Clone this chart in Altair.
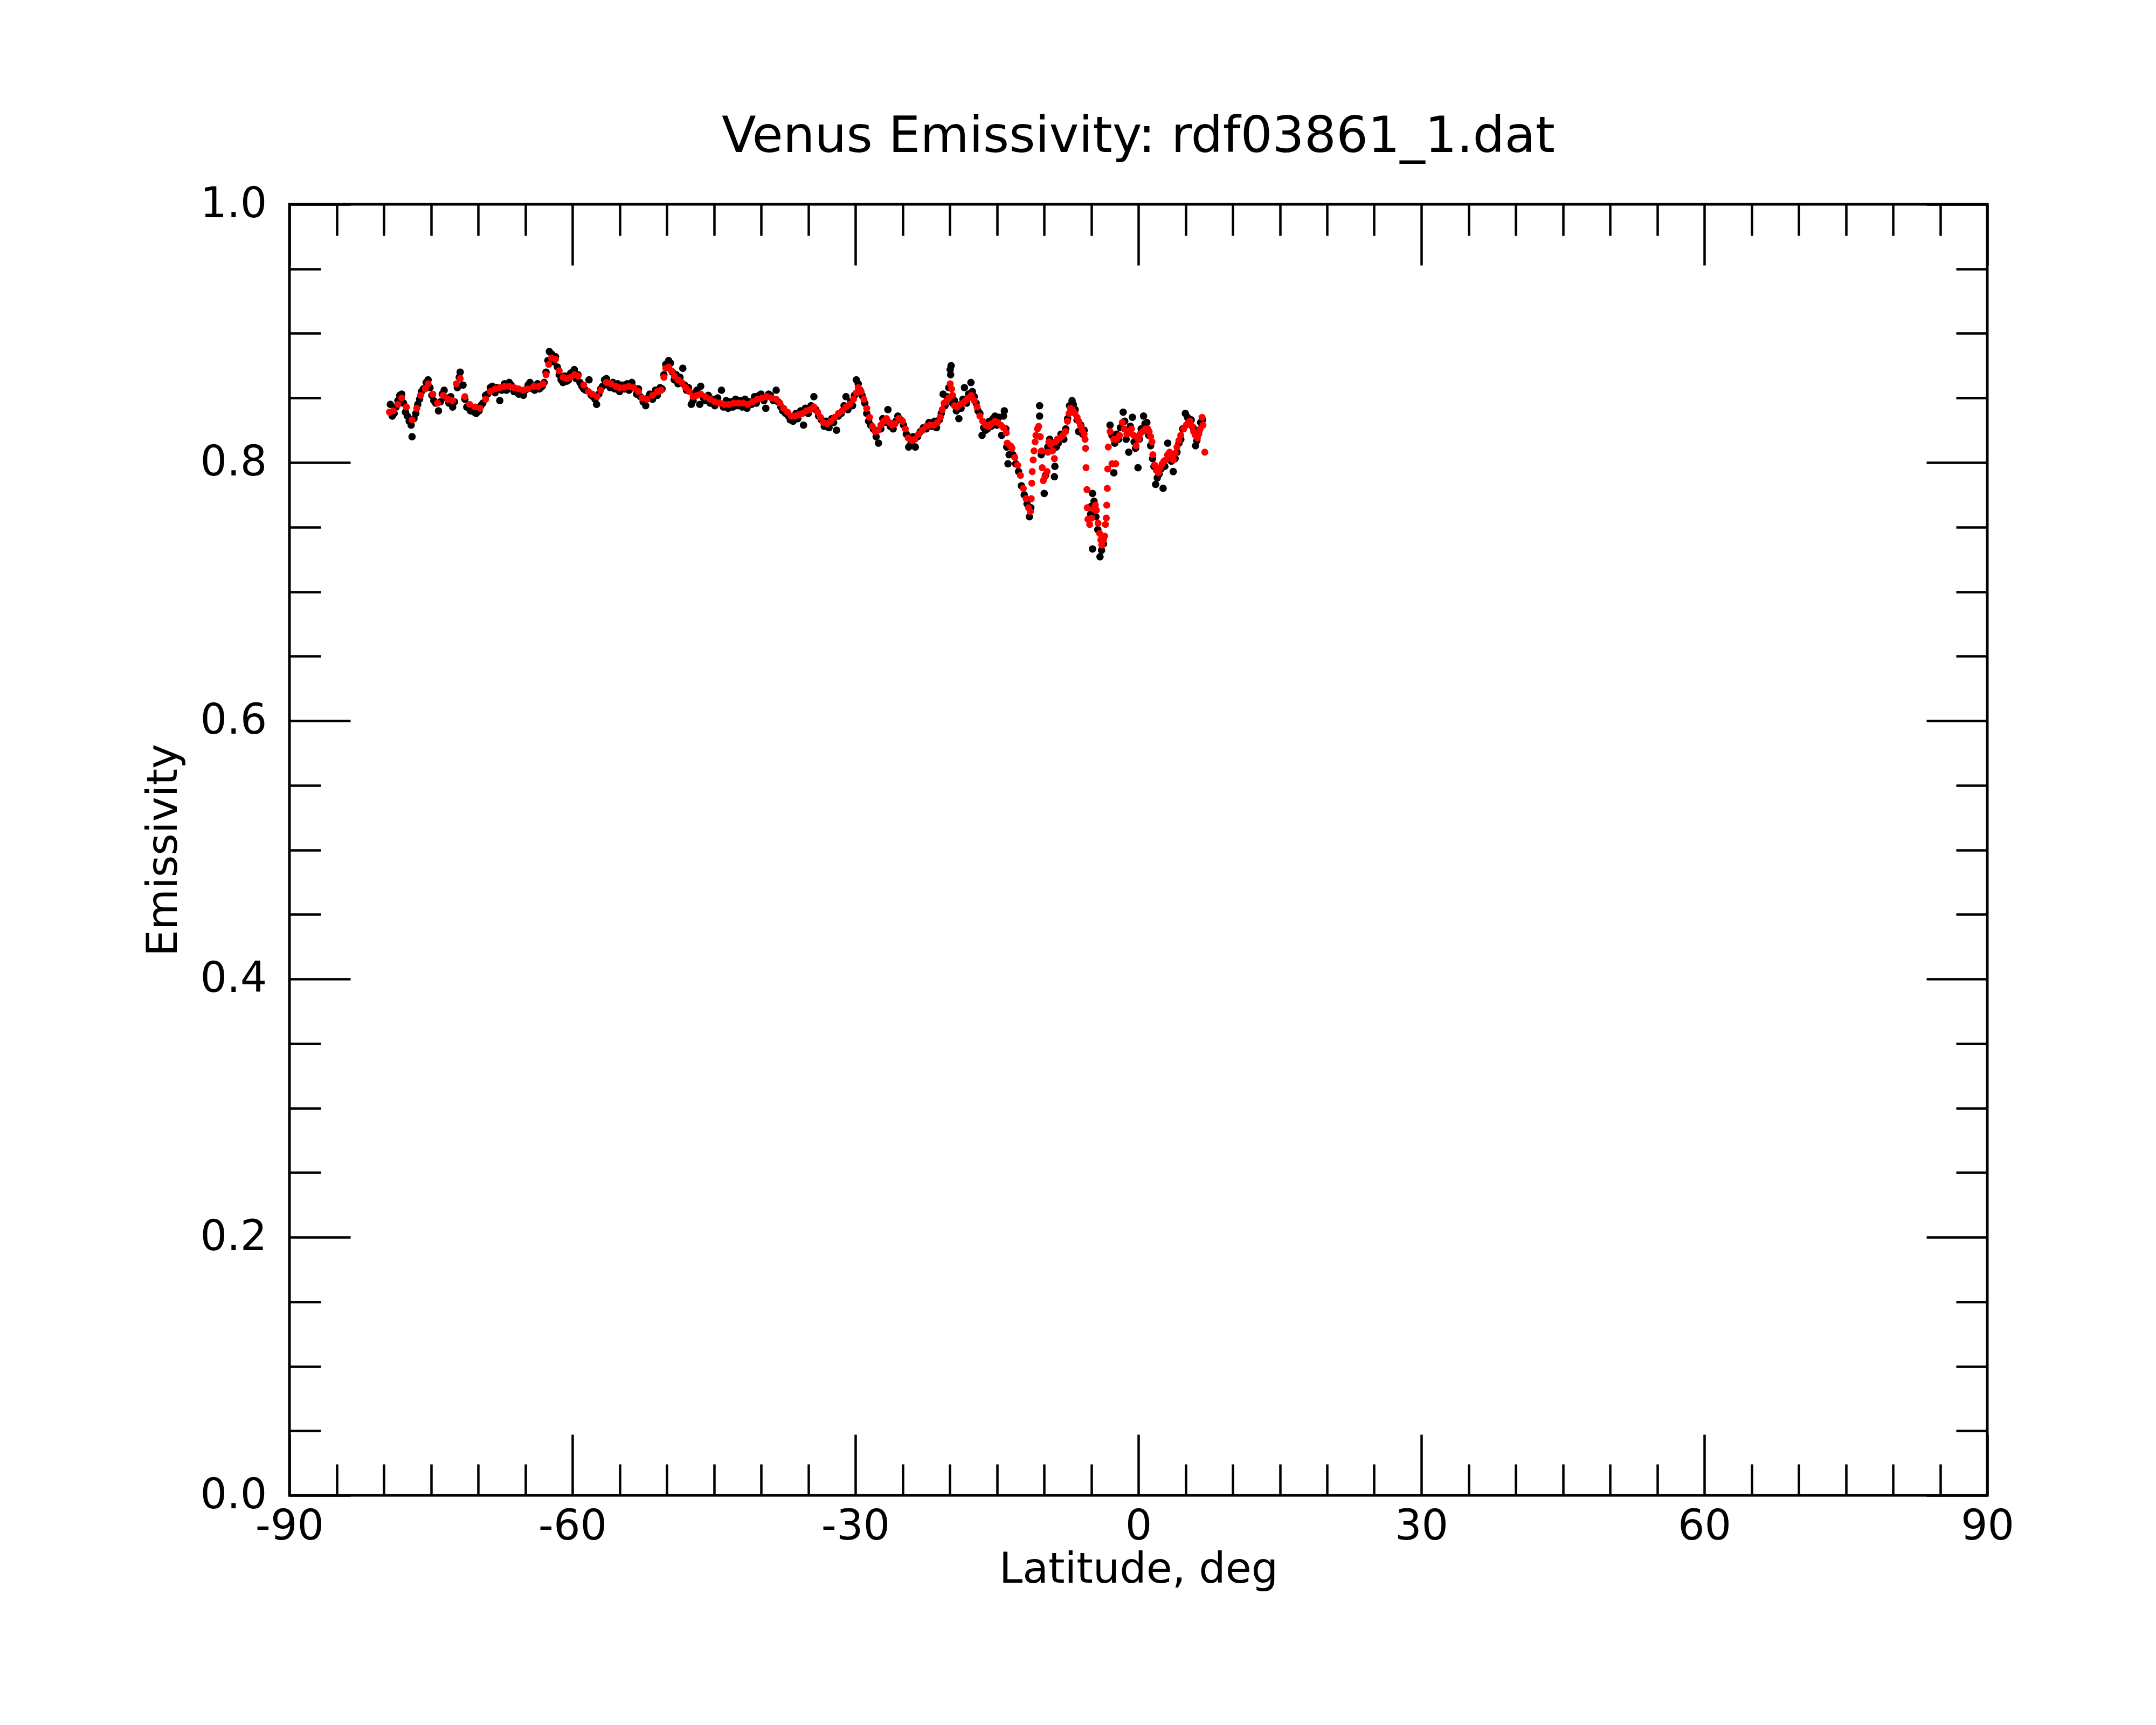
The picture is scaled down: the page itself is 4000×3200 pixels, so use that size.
import altair as alt
import pandas as pd

# ---------------- data ----------------
red_lat = [
    -79.4, -79.0, -78.5, -78.1, -77.6, -77.0, -76.5, -76.1, -75.6, -75.3,
    -74.8, -74.3, -73.7, -73.2, -72.7, -72.3, -71.9, -71.4, -70.9, -70.3,
    -69.8, -69.2, -68.7, -68.2, -67.7, -67.2, -66.7, -66.2, -65.7, -65.2,
    -64.7, -64.1, -63.6, -63.1, -62.8, -62.5, -62.2, -61.8, -61.4, -61.0,
    -60.6, -60.2, -59.8, -59.4, -58.8, -58.3, -57.9, -57.4, -57.0, -56.4,
    -55.9, -55.4, -55.0, -54.5, -54.0, -53.5, -53.0, -52.6, -52.1, -51.5,
    -51.0, -50.6, -50.3, -50.1, -49.8, -49.5, -49.2, -48.8, -48.4, -48.0,
    -47.6, -47.2, -46.8, -46.4, -45.9, -45.4, -44.9, -44.4, -43.9, -43.4,
    -42.9, -42.4, -41.9, -41.4, -40.9, -40.4, -39.9, -39.4, -38.9, -38.4,
    -38.0, -37.6, -37.2, -36.8, -36.4, -36.0, -35.6, -35.2, -34.8, -34.4,
    -34.0, -33.7, -33.4, -33.0, -32.6, -32.2, -31.8, -31.4, -31.0, -30.6,
    -30.2, -29.9, -29.7, -29.4, -29.1, -28.8, -28.5, -28.2, -27.9, -27.6,
    -27.3, -27.0, -26.7, -26.4, -26.1, -25.8, -25.4, -25.0, -24.7, -24.4,
    -24.0, -23.7, -23.3, -22.9, -22.5, -22.1, -21.7, -21.3, -21.0, -20.8,
    -20.6, -20.3, -20.1, -19.95, -19.8, -19.7, -19.5, -19.2, -18.9, -18.6,
    -18.3, -18.0, -17.7, -17.4, -17.1, -16.8, -16.5, -16.2, -15.9, -15.6,
    -15.2, -14.9, -14.6, -14.3, -14.0, -13.9, -13.6, -13.4, -13.1, -12.8,
    -12.5, -12.2, -11.9, -11.65, -11.45, -11.36, -11.3, -11.25, -11.15, -11.06,
    -10.95, -10.86, -10.7, -10.57, -10.4, -10.27, -10.2, -10.08, -9.9, -9.68,
    -9.6, -9.49, -9.3, -9.1, -8.9, -8.8, -8.6, -8.31, -8.0, -7.72,
    -7.52, -7.35, -7.22, -7.0, -6.73, -6.5, -6.34, -6.1, -5.94, -5.75,
    -5.65, -5.6, -5.55, -5.45, -5.42, -5.35, -5.16, -4.95, -4.75, -4.57,
    -4.45, -4.27, -4.1, -3.98, -3.88, -3.7, -3.58, -3.49, -3.4, -3.35,
    -3.29, -3.25, -3.19, -3.0, -2.8, -2.6, -2.4, -2.3, -2.0, -1.71,
    -1.5, -1.22, -1.0, -0.73, -0.5, -0.24, 0.0, 0.16, 0.45, 0.75,
    1.0, 1.14, 1.3, 1.44, 1.54, 1.73, 1.9, 2.12, 2.3, 2.52,
    2.7, 2.91, 3.1, 3.31, 3.5, 3.7, 3.9, 4.09, 4.3, 4.49,
    4.8, 5.08, 5.3, 5.47, 5.7, 5.86, 6.05, 6.26, 6.4, 6.55,
    6.75, 6.85, 7.04,
]
red_emis = [
    0.839, 0.840, 0.845, 0.850, 0.843, 0.833, 0.842, 0.852, 0.857, 0.861,
    0.853, 0.846, 0.852, 0.849, 0.848, 0.861, 0.865, 0.851, 0.845, 0.843,
    0.842, 0.849, 0.855, 0.857, 0.858, 0.859, 0.859, 0.858, 0.857, 0.856,
    0.857, 0.859, 0.859, 0.861, 0.868, 0.876, 0.881, 0.880, 0.871, 0.866,
    0.865, 0.866, 0.868, 0.867, 0.860, 0.855, 0.853, 0.851, 0.856, 0.862,
    0.861, 0.859, 0.858, 0.858, 0.859, 0.858, 0.855, 0.850, 0.849, 0.852,
    0.855, 0.856, 0.866, 0.873, 0.874, 0.871, 0.867, 0.864, 0.862, 0.858,
    0.855, 0.851, 0.852, 0.853, 0.851, 0.849, 0.847, 0.846, 0.845, 0.845,
    0.846, 0.846, 0.846, 0.845, 0.847, 0.849, 0.850, 0.851, 0.850, 0.849,
    0.846, 0.842, 0.839, 0.836, 0.836, 0.837, 0.838, 0.840, 0.841, 0.843,
    0.839, 0.835, 0.831, 0.830, 0.832, 0.835, 0.838, 0.840, 0.843, 0.845,
    0.849, 0.854, 0.858, 0.855, 0.849, 0.842, 0.835, 0.828, 0.824, 0.825,
    0.829, 0.832, 0.834, 0.831, 0.829, 0.830, 0.834, 0.832, 0.826, 0.819,
    0.817, 0.818, 0.822, 0.825, 0.828, 0.829, 0.829, 0.831, 0.835, 0.841,
    0.846, 0.848, 0.850, 0.861, 0.857, 0.852, 0.844, 0.843, 0.845, 0.846,
    0.848, 0.850, 0.852, 0.848, 0.843, 0.836, 0.832, 0.829, 0.828, 0.830,
    0.832, 0.831, 0.829, 0.827, 0.823, 0.815, 0.813, 0.811, 0.804, 0.798,
    0.790, 0.780, 0.772, 0.765, 0.762, 0.772, 0.784, 0.793, 0.802, 0.809,
    0.816, 0.821, 0.826, 0.828, 0.820, 0.809, 0.796, 0.786, 0.789, 0.793,
    0.808, 0.816, 0.814, 0.809, 0.803, 0.816, 0.818, 0.819, 0.821, 0.824,
    0.832, 0.838, 0.842, 0.841, 0.838, 0.835, 0.832, 0.828, 0.825, 0.822,
    0.818, 0.811, 0.796, 0.779, 0.765, 0.756, 0.752, 0.757, 0.764, 0.767,
    0.763, 0.753, 0.745, 0.740, 0.736, 0.740, 0.743, 0.752, 0.757, 0.767,
    0.780, 0.795, 0.812, 0.824, 0.799, 0.818, 0.799, 0.818, 0.821, 0.831,
    0.826, 0.822, 0.823, 0.826, 0.821, 0.813, 0.818, 0.822, 0.824, 0.826,
    0.826, 0.824, 0.820, 0.816, 0.806, 0.798, 0.794, 0.792, 0.796, 0.799,
    0.801, 0.802, 0.806, 0.808, 0.806, 0.802, 0.807, 0.812, 0.817, 0.821,
    0.826, 0.829, 0.831, 0.832, 0.828, 0.824, 0.821, 0.819, 0.822, 0.826,
    0.835, 0.829, 0.808,
]

black_lat = [
    -79.3, -79.1, -78.9, -78.7, -78.5, -78.3, -78.1, -77.9, -77.7, -77.5,
    -77.3, -77.1, -77.0, -76.8, -76.6, -76.4, -76.2, -76.0, -75.8, -75.5,
    -75.3, -75.1, -74.9, -74.7, -74.5, -74.2, -74.0, -73.8, -73.6, -73.4,
    -73.1, -72.9, -72.7, -72.5, -72.2, -72.0, -71.9, -71.6, -71.4, -71.2,
    -71.0, -70.8, -70.6, -70.4, -70.2, -69.9, -69.7, -69.5, -69.2, -69.0,
    -68.7, -68.5, -68.2, -68.0, -67.7, -67.5, -67.2, -67.0, -66.7, -66.5,
    -66.2, -66.0, -65.7, -65.5, -65.2, -65.0, -64.7, -64.5, -64.2, -64.0,
    -63.7, -63.5, -63.2, -63.0, -62.8, -62.6, -62.45, -62.2, -62.0, -61.8,
    -61.6, -61.4, -61.2, -61.0, -60.8, -60.6, -60.4, -60.2, -60.0, -59.8,
    -59.6, -59.4, -59.2, -59.0, -58.8, -58.6, -58.24, -58.0, -57.8, -57.6,
    -57.44, -57.2, -57.0, -56.8, -56.6, -56.4, -56.2, -56.0, -55.7, -55.5,
    -55.2, -55.0, -54.7, -54.5, -54.2, -54.0, -53.7, -53.5, -53.2, -53.0,
    -52.8, -52.5, -52.23, -52.0, -51.8, -51.5, -51.2, -51.0, -50.7, -50.5,
    -50.3, -50.1, -49.8, -49.6, -49.4, -49.2, -49.0, -48.8, -48.6, -48.3,
    -48.1, -47.9, -47.7, -47.4, -47.2, -47.0, -46.8, -46.5, -46.4, -46.1,
    -45.9, -45.6, -45.4, -45.1, -44.9, -44.6, -44.2, -44.0, -43.7, -43.5,
    -43.2, -43.0, -42.7, -42.5, -42.2, -42.0, -41.7, -41.5, -41.2, -41.0,
    -40.7, -40.5, -40.2, -40.0, -39.7, -39.5, -39.2, -39.0, -38.7, -38.4,
    -38.2, -37.9, -37.7, -37.4, -37.1, -36.9, -36.6, -36.3, -36.1, -35.8,
    -35.5, -35.3, -35.0, -34.7, -34.4, -34.2, -33.9, -33.6, -33.3, -33.1,
    -32.8, -32.5, -32.3, -32.0, -31.8, -31.5, -31.2, -31.0, -30.8, -30.5,
    -30.3, -30.1, -29.9, -29.7, -29.5, -29.3, -29.0, -28.8, -28.6, -28.4,
    -28.1, -27.8, -27.55, -27.3, -27.1, -26.9, -26.55, -26.3, -26.0, -25.7,
    -25.5, -25.2, -24.9, -24.6, -24.35, -24.1, -23.9, -23.65, -23.4, -23.1,
    -22.8, -22.5, -22.2, -21.9, -21.6, -21.4, -21.1, -20.9, -20.7, -20.5,
    -20.3, -20.1, -19.95, -19.9, -19.85, -19.7, -19.5, -19.3, -19.03, -18.8,
    -18.6, -18.44, -18.2, -18.0, -17.75, -17.6, -17.4, -17.2, -17.0, -16.8,
    -16.57, -16.4, -16.2, -16.0, -15.8, -15.6, -15.4, -15.2, -15.0, -14.8,
    -14.5, -14.3, -14.21, -14.05, -13.95, -13.82, -13.7, -13.5, -13.3, -13.0,
    -12.7, -12.4, -12.1, -11.8, -11.55, -11.4, -10.47, -10.47, -10.3, -9.98,
    -9.85, -9.6, -9.4, -9.2, -8.9, -8.85, -8.7, -8.5, -8.2, -7.9,
    -7.7, -7.5, -7.3, -7.03, -6.9, -6.7, -6.5, -6.34, -6.1, -5.9,
    -5.75, -5.06, -5.0, -4.86, -4.86, -4.7, -4.5, -4.3, -4.07, -3.9,
    -3.7, -3.0, -2.8, -2.6, -2.5, -2.3, -2.1, -1.9, -1.61, -1.45,
    -1.3, -1.02, -0.85, -0.63, -0.45, -0.3, -0.04, 0.1, 0.3, 0.55,
    0.7, 0.9, 1.1, 1.3, 1.5, 1.65, 1.83, 2.0, 2.2, 2.4,
    2.62, 2.8, 3.11, 3.3, 3.5, 3.7, 3.9, 4.1, 4.3, 4.5,
    4.7, 4.98, 5.2, 5.4, 5.6, 5.8, 6.06, 6.2, 6.4, 6.6,
    6.8,
]
black_emis = [
    0.845, 0.836, 0.838, 0.843, 0.848, 0.852, 0.853, 0.846, 0.839, 0.836,
    0.832, 0.829, 0.820, 0.834, 0.838, 0.845, 0.849, 0.855, 0.857, 0.862,
    0.864, 0.858, 0.852, 0.848, 0.846, 0.840, 0.847, 0.853, 0.856, 0.850,
    0.846, 0.851, 0.843, 0.847, 0.858, 0.866, 0.870, 0.860, 0.849, 0.843,
    0.842, 0.840, 0.841, 0.839, 0.838, 0.840, 0.844, 0.846, 0.852, 0.853,
    0.858, 0.859, 0.854, 0.858, 0.848, 0.856, 0.861, 0.856, 0.862, 0.860,
    0.855, 0.857, 0.853, 0.855, 0.852, 0.856, 0.860, 0.862, 0.857, 0.856,
    0.861, 0.857, 0.859, 0.862, 0.870, 0.879, 0.886, 0.884, 0.878, 0.882,
    0.874, 0.868, 0.864, 0.862, 0.867, 0.863, 0.864, 0.869, 0.870, 0.872,
    0.865, 0.868, 0.862, 0.859, 0.857, 0.856, 0.864, 0.852, 0.851, 0.849,
    0.845, 0.853, 0.857, 0.859, 0.864, 0.865, 0.860, 0.858, 0.862, 0.857,
    0.861, 0.855, 0.860, 0.857, 0.861, 0.856, 0.862, 0.858, 0.853, 0.857,
    0.851, 0.847, 0.844, 0.850, 0.853, 0.849, 0.856, 0.852, 0.858, 0.857,
    0.868, 0.876, 0.879, 0.877, 0.870, 0.864, 0.868, 0.861, 0.866, 0.873,
    0.860, 0.856, 0.858, 0.845, 0.848, 0.854, 0.856, 0.845, 0.859, 0.850,
    0.848, 0.852, 0.846, 0.849, 0.844, 0.850, 0.856, 0.843, 0.848, 0.842,
    0.847, 0.843, 0.849, 0.844, 0.848, 0.843, 0.849, 0.842, 0.847, 0.845,
    0.851, 0.846, 0.852, 0.853, 0.848, 0.842, 0.853, 0.852, 0.848, 0.856,
    0.847, 0.843, 0.840, 0.838, 0.836, 0.833, 0.832, 0.838, 0.834, 0.840,
    0.829, 0.842, 0.838, 0.844, 0.851, 0.841, 0.836, 0.833, 0.828, 0.832,
    0.827, 0.834, 0.831, 0.825, 0.836, 0.838, 0.844, 0.851, 0.841, 0.847,
    0.844, 0.852, 0.864, 0.861, 0.856, 0.852, 0.846, 0.838, 0.832, 0.829,
    0.826, 0.820, 0.815, 0.826, 0.834, 0.831, 0.841, 0.828, 0.826, 0.832,
    0.836, 0.833, 0.829, 0.822, 0.812, 0.815, 0.820, 0.812, 0.820, 0.824,
    0.827, 0.826, 0.831, 0.828, 0.832, 0.827, 0.833, 0.838, 0.853, 0.844,
    0.851, 0.858, 0.872, 0.868, 0.875, 0.846, 0.848, 0.840, 0.834, 0.842,
    0.849, 0.858, 0.846, 0.853, 0.862, 0.855, 0.851, 0.846, 0.840, 0.838,
    0.821, 0.827, 0.825, 0.826, 0.832, 0.828, 0.834, 0.836, 0.829, 0.835,
    0.821, 0.836, 0.840, 0.826, 0.812, 0.799, 0.806, 0.812, 0.806, 0.799,
    0.793, 0.782, 0.775, 0.768, 0.758, 0.765, 0.844, 0.836, 0.806, 0.776,
    0.790, 0.812, 0.818, 0.811, 0.789, 0.797, 0.812, 0.815, 0.822, 0.818,
    0.826, 0.834, 0.844, 0.848, 0.845, 0.841, 0.833, 0.824, 0.829, 0.822,
    0.825, 0.760, 0.766, 0.776, 0.733, 0.770, 0.758, 0.748, 0.727, 0.732,
    0.737, 0.829, 0.821, 0.792, 0.815, 0.822, 0.818, 0.827, 0.839, 0.832,
    0.818, 0.808, 0.828, 0.835, 0.816, 0.811, 0.796, 0.818, 0.826, 0.836,
    0.830, 0.831, 0.821, 0.813, 0.803, 0.797, 0.783, 0.788, 0.791, 0.795,
    0.780, 0.797, 0.815, 0.805, 0.801, 0.793, 0.803, 0.808, 0.815, 0.818,
    0.826, 0.838, 0.835, 0.830, 0.833, 0.827, 0.813, 0.817, 0.824, 0.831,
    0.833,
]

x_major = [-90, -60, -30, 0, 30, 60, 90]
x_minor = [-85, -80, -75, -70, -65, -55, -50, -45, -40, -35, -25, -20, -15,
           -10, -5, 5, 10, 15, 20, 25, 35, 40, 45, 50, 55, 65, 70, 75, 80, 85]
y_major = [0.0, 0.2, 0.4, 0.6, 0.8, 1.0]
y_minor = [0.05, 0.1, 0.15, 0.25, 0.3, 0.35, 0.45, 0.5, 0.55, 0.65, 0.7,
           0.75, 0.85, 0.9, 0.95]

title_text = "Venus Emissivity: rdf03861_1.dat"
x_title = "Latitude, deg"
y_title = "Emissivity"

# ---------------- chart ----------------
FONT = "DejaVu Sans"
W, H = 3150, 2395
MAJOR, MINOR = 113, 58
TICKW = 4.5

black_df = pd.DataFrame({"lat": black_lat, "emis": black_emis})
red_df = pd.DataFrame({"lat": red_lat, "emis": red_emis})


def xs():
    return alt.Scale(domain=[-90, 90], nice=False, zero=False)


def ys():
    return alt.Scale(domain=[0, 1], nice=False, zero=False)


def axis(orient, values, size, labels=False, title=None, **kw):
    opts = dict(
        orient=orient,
        values=values,
        grid=False,
        domain=False,
        ticks=True,
        tickColor="black",
        tickWidth=TICKW,
        tickSize=alt.ExprRef(str(-size)),
        labels=labels,
        labelFlush=False,
        labelOverlap=False,
        title=title,
        labelFont=FONT,
        labelFontSize=78,
        labelColor="black",
        titleFont=FONT,
        titleFontSize=78,
        titleFontWeight="normal",
        titleColor="black",
    )
    opts.update(kw)
    return alt.Axis(**opts)


def layer(df, color, opacity, size, xaxis, yaxis):
    return alt.Chart(df).mark_circle(size=size, color=color, opacity=opacity).encode(
        x=alt.X("lat:Q", scale=xs(), axis=xaxis),
        y=alt.Y("emis:Q", scale=ys(), axis=yaxis),
    )


minor_a = layer(
    black_df, "black", 0, 10,
    axis("bottom", x_minor, MINOR),
    axis("left", y_minor, MINOR),
)
minor_b = layer(
    black_df, "black", 0, 10,
    axis("top", x_minor, MINOR),
    axis("right", y_minor, MINOR),
)
black_layer = layer(
    black_df, "black", 1, 190,
    axis("bottom", x_major, MAJOR, labels=True, title=x_title,
         labelPadding=MAJOR + 19, labelExpr="toString(datum.value)",
         titleY=161, titleBaseline="alphabetic"),
    axis("left", y_major, MAJOR, labels=True, title=y_title,
         labelPadding=MAJOR + 42, format=".1f",
         titleX=-210, titleBaseline="alphabetic", titleAngle=270),
)
red_layer = layer(
    red_df, "red", 1, 170,
    axis("top", x_major, MAJOR),
    axis("right", y_major, MAJOR),
)

chart = (
    alt.layer(minor_a, minor_b, black_layer, red_layer)
    .resolve_scale(x="independent", y="independent")
    .resolve_axis(x="independent", y="independent")
    .properties(
        width=W,
        height=H,
        title=alt.TitleParams(
            text=title_text,
            font=FONT,
            fontSize=93,
            fontWeight="normal",
            color="black",
            anchor="middle",
            frame="group",
            baseline="alphabetic",
            offset=-35,
        ),
        autosize=alt.AutoSizeParams(type="none"),
        padding={"left": 529, "top": 371, "right": 290, "bottom": 400},
        background="white",
    )
    .configure_view(stroke="black", strokeWidth=5)
)

chart.save("out.html", embed_options={"renderer": "svg", "actions": False})
